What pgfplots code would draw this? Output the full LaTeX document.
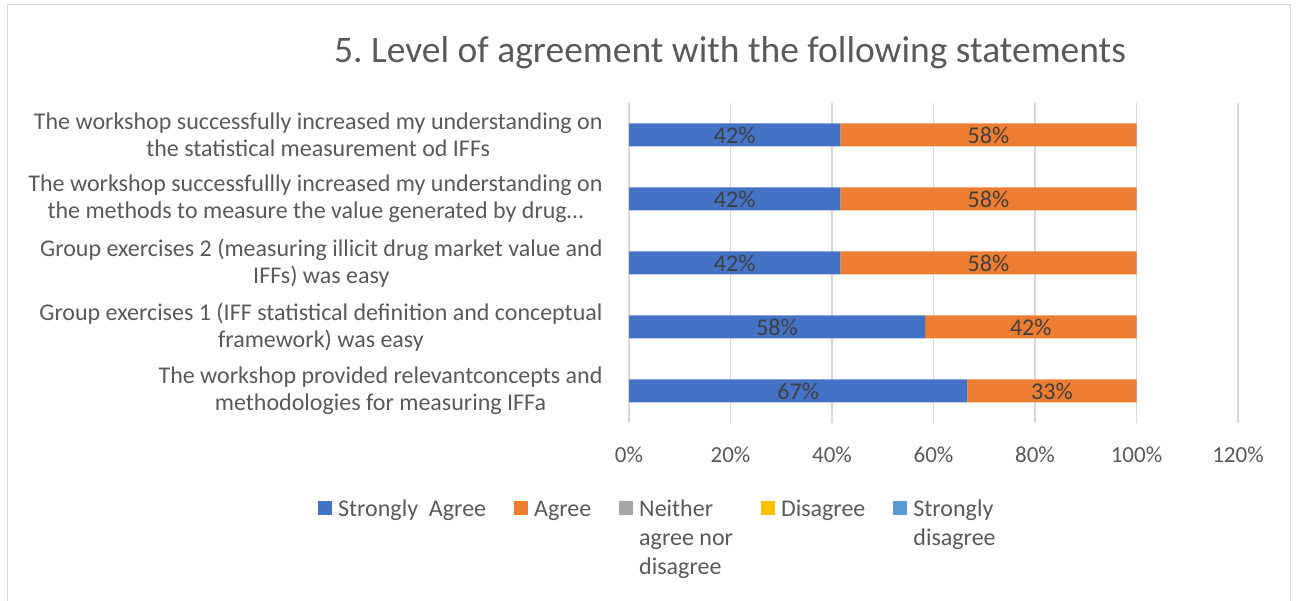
\documentclass[border=0pt]{standalone}
\usepackage{fontspec}
\setmainfont{Carlito}
\usepackage{pgfplots}
\pgfplotsset{compat=1.18}
\definecolor{cSA}{HTML}{4472C4}
\definecolor{cA}{HTML}{ED7D31}
\definecolor{cN}{HTML}{A5A5A5}
\definecolor{cD}{HTML}{FFC000}
\definecolor{cSD}{HTML}{5B9BD5}
\definecolor{txt}{HTML}{595959}
\definecolor{lbl}{HTML}{404040}
\definecolor{grd}{HTML}{D9D9D9}
\begin{document}
\frenchspacing
\begin{tikzpicture}
\useasboundingbox (0,0) rectangle (1299bp,601bp);
\draw[grd, line width=1.3bp] (7.5bp,-10bp) -- (7.5bp,596.5bp) -- (1290.5bp,596.5bp) -- (1290.5bp,-10bp);
\begin{axis}[
  at={(629bp,178bp)}, anchor=south west,
  scale only axis, width=609bp, height=320bp,
  xbar stacked, bar width=23bp,
  xmin=0, xmax=120, ymin=-0.5, ymax=4.5,
  xtick={0,20,...,120},
  xticklabel={\pgfmathprintnumber{\tick}\%},
  /pgf/number format/assume math mode=true,
  ytick={0,1,2,3,4},
  yticklabels={
    {The workshop provided relevantconcepts and\\methodologies for measuring IFFa},
    {Group exercises 1 (IFF statistical definition and conceptual\\framework) was easy},
    {Group exercises 2 (measuring illicit drug market value and\\IFFs) was easy},
    {The workshop successfullly increased my understanding on\\the methods to measure the value generated by drug\ldots},
    {The workshop successfully increased my understanding on\\the statistical measurement od IFFs}},
  yticklabel style={align=center, font=\fontsize{24bp}{27bp}\selectfont, text=txt, xshift=-23bp},
  xticklabel style={font=\fontsize{23bp}{26bp}\selectfont, text=txt, yshift=-20bp},
  axis line style={draw=none}, tick style={draw=none},
  xmajorgrids, grid style={grd, line width=1.3bp},
  title={5. Level of agreement with the following statements},
  title style={at={(axis description cs:0.166,1)}, anchor=base, yshift=35bp, font=\fontsize{37.5bp}{44bp}\selectfont, text=txt},
  point meta=explicit,
  nodes near coords={\pgfmathprintnumber{\pgfplotspointmeta}\%},
  nodes near coords align={center},
  every node near coord/.append style={font=\fontsize{24bp}{28bp}\selectfont, text=lbl},
  legend columns=5,
  legend style={at={(-0.5107,-0.228)}, anchor=north west, draw=none, fill=none,
    font=\fontsize{24bp}{29bp}\selectfont, text=txt,
    inner sep=0pt, nodes={inner sep=0pt}, cells={anchor=base west},
    /tikz/every odd column/.style={column sep=6bp},
    /tikz/every even column/.style={column sep=28bp}},
  legend image code/.code={\path[#1, draw=none] (0bp,1bp) rectangle (14bp,15bp);},
]
\addplot[fill=cSA, draw=none] coordinates {(66.67,0) [67] (58.33,1) [58] (41.67,2) [42] (41.67,3) [42] (41.67,4) [42]};
\addlegendentry{Strongly\ \ Agree}
\addplot[fill=cA, draw=none] coordinates {(33.33,0) [33] (41.67,1) [42] (58.33,2) [58] (58.33,3) [58] (58.33,4) [58]};
\addlegendentry{Agree}
\addlegendimage{fill=cN}
\addlegendentry{\begin{tabular}[t]{@{}l@{}}Neither\\agree nor\\disagree\end{tabular}}
\addlegendimage{fill=cD}
\addlegendentry{Disagree}
\addlegendimage{fill=cSD}
\addlegendentry{\begin{tabular}[t]{@{}l@{}}Strongly\\disagree\end{tabular}}
\end{axis}
\end{tikzpicture}
\end{document}
